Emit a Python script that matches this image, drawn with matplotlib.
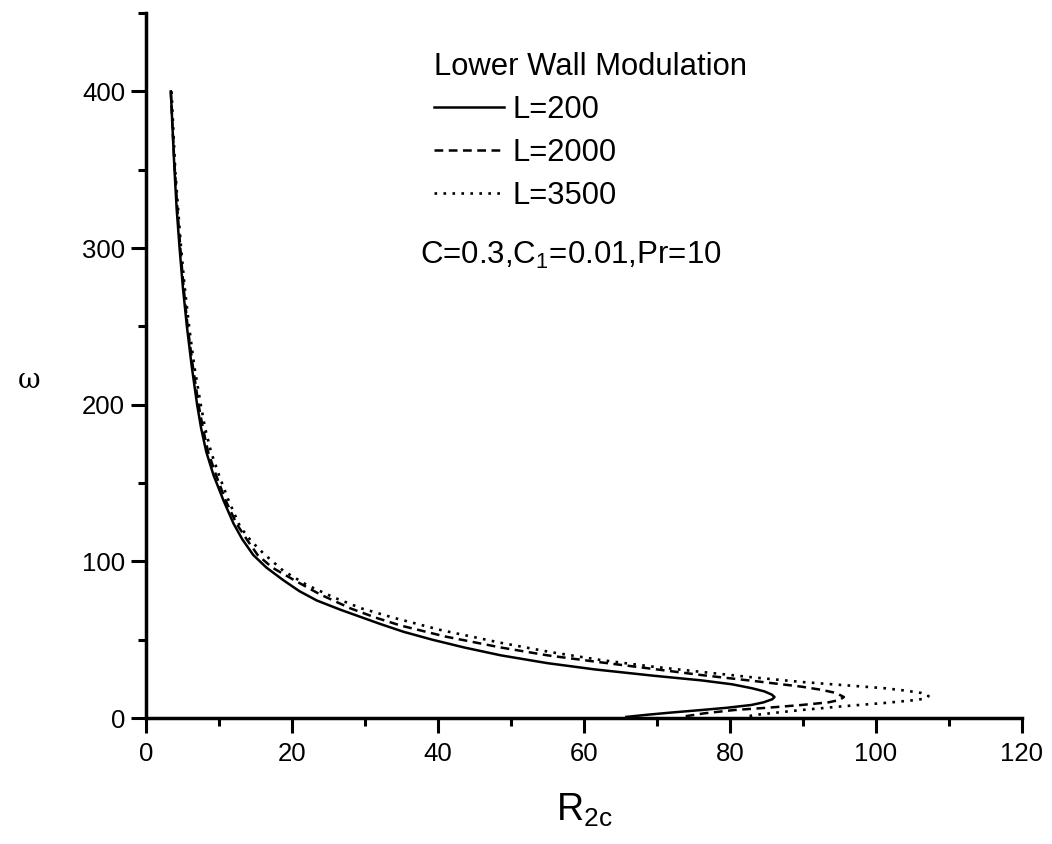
import matplotlib
matplotlib.use("Agg")
import matplotlib.pyplot as plt
from matplotlib.ticker import MultipleLocator

plt.rcParams['font.family'] = ['Liberation Sans', 'DejaVu Sans']
plt.rcParams['mathtext.fontset'] = 'custom'
plt.rcParams['mathtext.rm'] = 'Liberation Sans'
plt.rcParams['mathtext.it'] = 'Liberation Sans:italic'

# Datos (R2c, omega)
omega_200 = [400, 375, 350, 325, 300, 275, 250, 225, 200, 185, 170, 155, 139, 124, 114, 104, 96, 88, 81, 75,
             69, 64.5, 60, 55, 50, 45, 40, 35, 31, 27, 24, 21.5, 19, 17, 15, 13.4, 12, 10, 8.3, 6.5, 5.1, 3.5, 2, 0.7]
r2c_200 = [3.4, 3.65, 3.9, 4.2, 4.6, 5.05, 5.6, 6.25, 7.0, 7.55, 8.25, 9.25, 10.6, 12.0, 13.2, 14.7, 16.5, 18.8, 21.0, 23.4,
           26.7, 29.4, 32.1, 35.3, 39.2, 43.6, 48.6, 55.0, 61.5, 69.5, 76.1, 80.3, 83.0, 84.7, 85.7, 86.1, 85.8, 84.6, 82.9, 79.5, 76.1, 72.0, 68.5, 65.8]

omega_2000 = [400, 375, 350, 325, 300, 275, 250, 225, 200, 185, 170, 155, 139, 124, 114, 104, 96, 88, 79, 70,
              64, 59, 52, 45, 40, 36, 31, 27.4, 23.5, 20, 18, 16, 13.4, 11.5, 10, 8.3, 6.5, 5.1, 3, 0.7]
r2c_2000 = [3.4, 3.65, 3.95, 4.3, 4.7, 5.15, 5.7, 6.4, 7.2, 7.8, 8.5, 9.6, 10.9, 12.4, 13.8, 15.3, 17.3, 20.3, 23.8, 28.0,
            31.5, 34.9, 41.0, 48.6, 55.0, 61.5, 70.0, 76.1, 83.5, 89.8, 92.5, 94.5, 95.6, 95.0, 93.5, 89.8, 85.0, 80.6, 76.5, 73.3]

omega_3500 = [400, 375, 350, 325, 300, 275, 250, 225, 200, 185, 170, 155, 139, 122, 113, 105, 94, 85, 77, 70,
              64, 56, 48, 42, 37, 33, 29.4, 26, 23, 21, 19, 17.5, 16, 14, 12.5, 11.5, 9.6, 7.5, 5.1, 3.5, 1.9, 0.7]
r2c_3500 = [3.5, 3.75, 4.0, 4.4, 4.8, 5.3, 5.9, 6.6, 7.5, 8.1, 8.9, 10.0, 11.3, 12.9, 14.4, 16.1, 18.8, 22.0, 25.7, 29.5,
            33.9, 40.5, 48.6, 55.5, 62.3, 69.0, 76.1, 83.0, 89.8, 95.5, 101.2, 104.0, 106.2, 107.2, 106.8, 105.5, 101.2, 95.5, 89.8, 86.5, 83.3, 82.2]

etiquetas = ["L=200", "L=2000", "L=3500"]

fig = plt.figure(figsize=(10.52, 8.44), dpi=100)
ax = fig.add_axes([146 / 1052, 126 / 844, 876 / 1052, 705 / 844])

ax.plot(r2c_200, omega_200, color='black', lw=1.8, label=etiquetas[0])
ax.plot(r2c_2000, omega_2000, color='black', lw=1.8, dashes=(3.5, 2.2), label=etiquetas[1])
ax.plot(r2c_3500, omega_3500, color='black', lw=1.9, dashes=(1, 2.4), label=etiquetas[2])

ax.set_xlim(0, 120)
ax.set_ylim(0, 450)
ax.xaxis.set_major_locator(MultipleLocator(20))
ax.xaxis.set_minor_locator(MultipleLocator(10))
ax.yaxis.set_major_locator(MultipleLocator(100))
ax.yaxis.set_minor_locator(MultipleLocator(50))

for lado in ['top', 'right']:
    ax.spines[lado].set_visible(False)
for lado in ['left', 'bottom']:
    ax.spines[lado].set_linewidth(2.5)

ax.tick_params(which='major', direction='out', length=11, width=2.2, labelsize=18.5)
ax.tick_params(which='minor', direction='out', length=6, width=2.2)
ax.tick_params(axis='x', which='major', pad=6)
ax.tick_params(axis='y', which='major', pad=4)

ax.set_xlabel(r'R$_{\mathrm{2c}}$', fontsize=27)
ax.xaxis.set_label_coords(0.5, -0.104)
ax.set_ylabel('ω', fontsize=20, rotation=0, family='DejaVu Serif', va='center')
ax.yaxis.set_label_coords(-0.133, 0.479)

leg = ax.legend(loc='upper left', bbox_to_anchor=(434 / 1052, 1 - 52 / 844),
                bbox_transform=fig.transFigure, frameon=False, fontsize=22.3,
                title='Lower Wall Modulation', title_fontsize=22.3,
                alignment='left', handlelength=2.25, handletextpad=0.3,
                labelspacing=0.42, borderpad=0, borderaxespad=0)

fig.text(420 / 1052, 1 - 255 / 844, r'C=0.3,C$_\mathrm{1}$=0.01,Pr=10', fontsize=22.5, va='center')

plt.savefig('out.png', dpi=100)
